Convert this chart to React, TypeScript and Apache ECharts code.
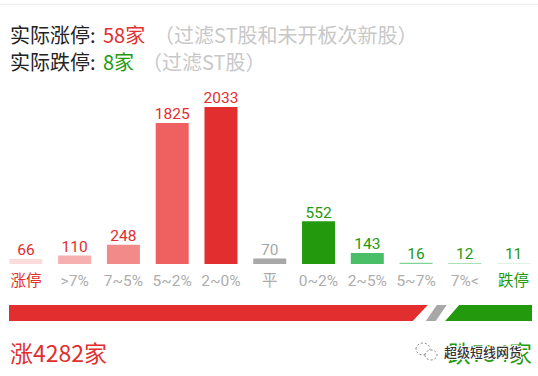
import React, { useEffect, useRef } from "react";
import * as echarts from "echarts";

const categories = ["涨停", ">7%", "7~5%", "5~2%", "2~0%", "平", "0~2%", "2~5%", "5~7%", "7%<", "跌停"];
const values = [66, 110, 248, 1825, 2033, 70, 552, 143, 16, 12, 11];
const barColors = ["#fbdcdc", "#f6b0b0", "#f38a8a", "#ef6060", "#e22e2e", "#a8a8a8", "#239a0e", "#4abf68", "#7fd394", "#a9e0b6", "#d3efda"];
const labelColors = ["#e22e2e", "#e22e2e", "#e22e2e", "#e22e2e", "#e22e2e", "#a6a6a6", "#239a0e", "#239a0e", "#239a0e", "#239a0e", "#239a0e"];
const axisLabelColors = ["#e22e2e", "#adadad", "#adadad", "#adadad", "#adadad", "#adadad", "#adadad", "#adadad", "#adadad", "#adadad", "#239a0e"];
const ratioStarts = [0, 79.7, 83.4];
const ratioEnds = [77.2, 81.6, 100];
const ratioSlants = [15, 11, 14];
const ratioColors = ["#e22e2e", "#a8a8a8", "#239a0e"];

const FONT = '"Noto Sans CJK SC", Roboto, sans-serif';
const NUM = 'Roboto, "Noto Sans CJK SC", sans-serif';

function App() {
  const ref = useRef<HTMLDivElement>(null);
  useEffect(() => {
    document.body.style.margin = "0";
    const chart = echarts.init(ref.current!, undefined, { renderer: "svg" });
    const head = (x: number, y: number, text: string, fill: string, size = 20) => ({
      type: "text", x, y, style: { text, fill, font: `${size}px ${FONT}`, textVerticalAlign: "middle" },
    });
    const wmRing = (cx: number, cy: number, rx: number, ry: number) => ({
      type: "ellipse", shape: { cx, cy, rx, ry },
      style: { fill: "#ffffff", stroke: "#8c8c8c", lineWidth: 1, lineDash: [2, 2] },
    });
    chart.setOption({
      animation: false,
      backgroundColor: "#ffffff",
      grid: [
        { left: 1.5, right: -2.5, top: 107, height: 157 },
        { left: 9, width: 523, top: 305, height: 16 },
      ],
      xAxis: [
        {
          type: "category", gridIndex: 0, data: categories,
          axisLine: { show: false }, axisTick: { show: false },
          axisLabel: {
            interval: 0, margin: 9, fontSize: 15.5, fontFamily: NUM,
            color: (_v: string, i: number) => axisLabelColors[i],
          },
        },
        { type: "value", gridIndex: 1, min: 0, max: 100, show: false },
      ],
      yAxis: [
        { type: "value", gridIndex: 0, min: 0, max: 2033, show: false },
        { type: "value", gridIndex: 1, min: 0, max: 1, show: false },
      ],
      series: [
        {
          type: "bar", xAxisIndex: 0, yAxisIndex: 0, barWidth: 33,
          data: values.map((v, i) => ({
            value: v,
            itemStyle: { color: barColors[i] },
            label: { color: labelColors[i] },
          })),
          label: { show: true, position: "top", distance: 1, fontSize: 15.5, fontFamily: NUM },
        },
        {
          type: "custom", xAxisIndex: 1, yAxisIndex: 1,
          data: ratioStarts.map((s, i) => [s, ratioEnds[i]]),
          renderItem: (params: any, api: any) => {
            const i = params.dataIndex;
            const a = api.coord([api.value(0), 0]);
            const b = api.coord([api.value(1), 1]);
            const slant = ratioSlants[i];
            const pts = [
              [a[0] + (i === 0 ? 0 : slant), b[1]],
              [b[0] + (i === 2 ? 0 : slant), b[1]],
              [b[0], a[1]],
              [a[0], a[1]],
            ];
            return { type: "polygon", shape: { points: pts }, style: { fill: ratioColors[i] } };
          },
        },
      ],
      graphic: [
        { type: "rect", shape: { x: 0, y: 4, width: 538, height: 1 }, style: { fill: "#efefef" } },
        head(10, 34, "实际涨停:", "#222222"),
        head(103, 34, "58家", "#e22e2e"),
        head(154, 34, "（过滤ST股和未开板次新股）", "#c8c8c8"),
        head(10, 61, "实际跌停:", "#222222"),
        head(103, 61, "8家", "#239a0e"),
        head(142, 61, "（过滤ST股）", "#c8c8c8"),
        head(10, 352, "涨4282家", "#e22e2e", 23),
        { type: "text", x: 532, y: 352, style: { text: "跌734家", fill: "#239a0e", font: `23px ${FONT}`, textAlign: "right", textVerticalAlign: "middle" } },
        wmRing(423, 349, 7, 6),
        wmRing(431, 355, 6, 5),
        { type: "text", x: 444, y: 351, style: { text: "超级短线网货", fill: "#333333", stroke: "#ffffff", lineWidth: 2, font: `500 13px ${FONT}`, textVerticalAlign: "middle" } },
      ],
    });
    return () => chart.dispose();
  }, []);
  return <div ref={ref} style={{ width: 538, height: 376 }} />;
}

export default App;
